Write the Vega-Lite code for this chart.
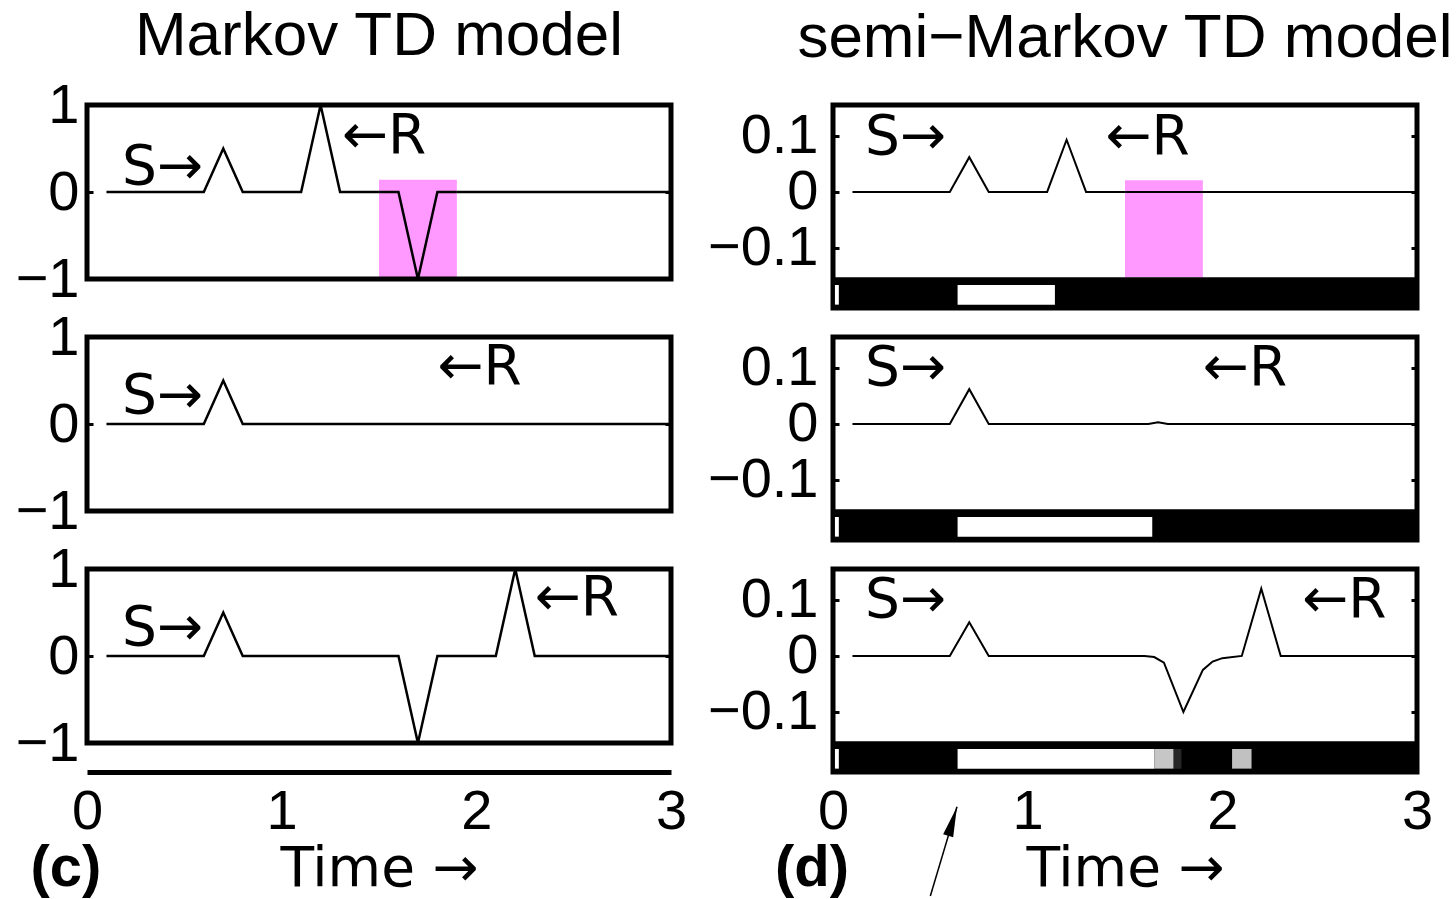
{
  "$schema": "https://vega.github.io/schema/vega-lite/v6.json",
  "background": "white",
  "padding": {"left": 12, "top": 2, "right": 5, "bottom": 0},
  "columns": 2,
  "bounds": "flush",
  "spacing": {"row": 29, "column": 162},
  "config": {
    "view": {"stroke": "black", "strokeWidth": 5},
    "font": "Liberation Sans",
    "axis": {"grid": false, "domain": false, "tickColor": "black", "tickWidth": 3, "labelFont": "Liberation Sans", "labelFontSize": 56, "labelColor": "black", "labelFlush": false, "labelOverlap": false, "titleFont": "DejaVu Sans", "titleFontSize": 55, "titleFontWeight": "normal", "titleColor": "black"},
    "title": {"font": "Liberation Sans", "fontSize": 62, "fontWeight": "normal", "color": "black", "anchor": "middle"},
    "text": {"font": "Liberation Sans", "color": "black"}
  },
  "datasets": {
    "markov": [
      {"panel": 1, "t": 0.1, "v": 0}, {"panel": 1, "t": 0.6, "v": 0}, {"panel": 1, "t": 0.7, "v": 0.5}, {"panel": 1, "t": 0.8, "v": 0},
      {"panel": 1, "t": 1.1, "v": 0}, {"panel": 1, "t": 1.2, "v": 1}, {"panel": 1, "t": 1.3, "v": 0},
      {"panel": 1, "t": 1.6, "v": 0}, {"panel": 1, "t": 1.7, "v": -1}, {"panel": 1, "t": 1.8, "v": 0}, {"panel": 1, "t": 3, "v": 0},
      {"panel": 2, "t": 0.1, "v": 0}, {"panel": 2, "t": 0.6, "v": 0}, {"panel": 2, "t": 0.7, "v": 0.5}, {"panel": 2, "t": 0.8, "v": 0}, {"panel": 2, "t": 3, "v": 0},
      {"panel": 3, "t": 0.1, "v": 0}, {"panel": 3, "t": 0.6, "v": 0}, {"panel": 3, "t": 0.7, "v": 0.5}, {"panel": 3, "t": 0.8, "v": 0},
      {"panel": 3, "t": 1.6, "v": 0}, {"panel": 3, "t": 1.7, "v": -1}, {"panel": 3, "t": 1.8, "v": 0},
      {"panel": 3, "t": 2.1, "v": 0}, {"panel": 3, "t": 2.2, "v": 1}, {"panel": 3, "t": 2.3, "v": 0}, {"panel": 3, "t": 3, "v": 0}
    ],
    "semi": [
      {"panel": 1, "t": 0.1, "v": 0}, {"panel": 1, "t": 0.6, "v": 0}, {"panel": 1, "t": 0.7, "v": 0.062}, {"panel": 1, "t": 0.8, "v": 0},
      {"panel": 1, "t": 1.1, "v": 0}, {"panel": 1, "t": 1.2, "v": 0.093}, {"panel": 1, "t": 1.3, "v": 0}, {"panel": 1, "t": 3, "v": 0},
      {"panel": 2, "t": 0.1, "v": 0}, {"panel": 2, "t": 0.6, "v": 0}, {"panel": 2, "t": 0.7, "v": 0.062}, {"panel": 2, "t": 0.8, "v": 0},
      {"panel": 2, "t": 1.62, "v": 0}, {"panel": 2, "t": 1.67, "v": 0.003}, {"panel": 2, "t": 1.72, "v": 0}, {"panel": 2, "t": 3, "v": 0},
      {"panel": 3, "t": 0.1, "v": 0}, {"panel": 3, "t": 0.6, "v": 0}, {"panel": 3, "t": 0.7, "v": 0.06}, {"panel": 3, "t": 0.8, "v": 0},
      {"panel": 3, "t": 1.6, "v": 0}, {"panel": 3, "t": 1.65, "v": -0.002}, {"panel": 3, "t": 1.7, "v": -0.012}, {"panel": 3, "t": 1.8, "v": -0.1},
      {"panel": 3, "t": 1.9, "v": -0.025}, {"panel": 3, "t": 1.95, "v": -0.01}, {"panel": 3, "t": 2.0, "v": -0.004}, {"panel": 3, "t": 2.1, "v": 0},
      {"panel": 3, "t": 2.2, "v": 0.12}, {"panel": 3, "t": 2.3, "v": 0}, {"panel": 3, "t": 3, "v": 0}
    ],
    "strip": [
      {"panel": 1, "t0": 0.01, "t1": 0.03, "p": 1}, {"panel": 1, "t0": 0.64, "t1": 1.14, "p": 1},
      {"panel": 2, "t0": 0.01, "t1": 0.03, "p": 1}, {"panel": 2, "t0": 0.64, "t1": 1.64, "p": 1},
      {"panel": 3, "t0": 0.01, "t1": 0.03, "p": 1}, {"panel": 3, "t0": 0.64, "t1": 1.65, "p": 1},
      {"panel": 3, "t0": 1.65, "t1": 1.75, "p": 0.8}, {"panel": 3, "t0": 1.75, "t1": 1.79, "p": 0.15},
      {"panel": 3, "t0": 2.05, "t1": 2.15, "p": 0.78}
    ],
    "labels": [
      {"panel": "c1", "t": 0.18, "v": 0.29, "label": "S→"}, {"panel": "c1", "t": 1.31, "v": 0.64, "label": "←R"},
      {"panel": "c2", "t": 0.18, "v": 0.32, "label": "S→"}, {"panel": "c2", "t": 1.8, "v": 0.66, "label": "←R"},
      {"panel": "c3", "t": 0.18, "v": 0.32, "label": "S→"}, {"panel": "c3", "t": 2.3, "v": 0.67, "label": "←R"},
      {"panel": "d1", "t": 0.165, "v": 0.098, "label": "S→"}, {"panel": "d1", "t": 1.4, "v": 0.098, "label": "←R"},
      {"panel": "d2", "t": 0.165, "v": 0.1, "label": "S→"}, {"panel": "d2", "t": 1.9, "v": 0.1, "label": "←R"},
      {"panel": "d3", "t": 0.165, "v": 0.1, "label": "S→"}, {"panel": "d3", "t": 2.41, "v": 0.1, "label": "←R"}
    ],
    "pink": [
      {"panel": "c1", "t0": 1.5, "t1": 1.9, "v0": -1, "v1": 0.14},
      {"panel": "d1", "t0": 1.5, "t1": 1.9, "v0": -0.152, "v1": 0.021}
    ],
    "tags": [
      {"panel": "c3", "t": -0.108, "v": -2.45, "label": "(c)"},
      {"panel": "d3", "t": -0.108, "v": -0.38, "label": "(d)"}
    ],
    "arrowline": [
      {"t": 0.5, "v": -0.428}, {"t": 0.637, "v": -0.269}
    ],
    "arrowhead": [
      {"t": 0.614, "v": -0.295}
    ]
  },
  "concat": [
    {
      "width": 584, "height": 174,
      "title": {"text": "Markov TD model", "offset": 9},
      "resolve": {"axis": {"y": "independent"}},
      "layer": [
        {"data": {"name": "markov"}, "transform": [{"filter": "datum.panel == 1"}],
         "mark": {"type": "line", "color": "black", "strokeWidth": 2.5},
         "encoding": {
           "x": {"field": "t", "type": "quantitative", "scale": {"domain": [0, 3], "nice": false}, "axis": null},
           "y": {"field": "v", "type": "quantitative", "scale": {"domain": [-1, 1], "nice": false, "zero": false}, "axis": {"values": [-1, 0, 1], "format": ".0f", "labelOverlap": false, "title": null, "tickSize": -6, "labelPadding": 14}}}},
        {"data": {"name": "pink"}, "transform": [{"filter": "datum.panel == 'c1'"}],
         "mark": {"type": "rect", "color": "#ff99ff", "blend": "multiply"},
         "encoding": {
           "x": {"field": "t0", "type": "quantitative", "axis": null}, "x2": {"field": "t1"},
           "y": {"field": "v0", "type": "quantitative", "axis": null}, "y2": {"field": "v1"}}},
        {"data": {"name": "labels"}, "transform": [{"filter": "datum.panel == 'c1'"}],
         "mark": {"type": "text", "align": "left", "baseline": "middle", "fontSize": 55, "font": "DejaVu Sans"},
         "encoding": {
           "x": {"field": "t", "type": "quantitative", "axis": null},
           "y": {"field": "v", "type": "quantitative", "axis": {"orient": "right", "values": [-1, 0, 1], "labels": false, "title": null, "tickSize": -6}},
           "text": {"field": "label"}}}
      ]
    },
    {
      "width": 584, "height": 203,
      "title": {"text": "semi−Markov TD model", "offset": 35},
      "resolve": {"axis": {"y": "independent"}},
      "layer": [
        {"data": {"values": [{}]},
         "mark": {"type": "rect", "color": "black"},
         "encoding": {
           "x": {"datum": 0, "type": "quantitative", "scale": {"domain": [0, 3], "nice": false}, "axis": null}, "x2": {"datum": 3},
           "y": {"datum": -0.207, "type": "quantitative", "scale": {"domain": [-0.207, 0.155], "nice": false, "zero": false}, "axis": null}, "y2": {"datum": -0.152}}},
        {"data": {"name": "strip"}, "transform": [{"filter": "datum.panel == 1"}],
         "mark": {"type": "rect"},
         "encoding": {
           "x": {"field": "t0", "type": "quantitative", "axis": null}, "x2": {"field": "t1"},
           "y": {"datum": -0.166, "type": "quantitative", "axis": null}, "y2": {"datum": -0.201},
           "color": {"field": "p", "type": "quantitative", "scale": {"domain": [0, 1], "range": ["#000000", "#ffffff"]}, "legend": null}}},
        {"data": {"name": "semi"}, "transform": [{"filter": "datum.panel == 1"}],
         "mark": {"type": "line", "color": "black", "strokeWidth": 2},
         "encoding": {
           "x": {"field": "t", "type": "quantitative", "axis": null},
           "y": {"field": "v", "type": "quantitative", "axis": {"values": [-0.1, 0, 0.1], "format": ".1~f", "title": null, "tickSize": -6, "labelPadding": 21}}}},
        {"data": {"name": "pink"}, "transform": [{"filter": "datum.panel == 'd1'"}],
         "mark": {"type": "rect", "color": "#ff99ff", "blend": "multiply"},
         "encoding": {
           "x": {"field": "t0", "type": "quantitative", "axis": null}, "x2": {"field": "t1"},
           "y": {"field": "v0", "type": "quantitative", "axis": null}, "y2": {"field": "v1"}}},
        {"data": {"name": "labels"}, "transform": [{"filter": "datum.panel == 'd1'"}],
         "mark": {"type": "text", "align": "left", "baseline": "middle", "fontSize": 55, "font": "DejaVu Sans"},
         "encoding": {
           "x": {"field": "t", "type": "quantitative", "axis": null},
           "y": {"field": "v", "type": "quantitative", "axis": {"orient": "right", "values": [-0.1, 0, 0.1], "labels": false, "title": null, "tickSize": -6}},
           "text": {"field": "label"}}}
      ]
    },
    {
      "width": 584, "height": 174,
      "resolve": {"axis": {"y": "independent"}},
      "layer": [
        {"data": {"name": "markov"}, "transform": [{"filter": "datum.panel == 2"}],
         "mark": {"type": "line", "color": "black", "strokeWidth": 2.5},
         "encoding": {
           "x": {"field": "t", "type": "quantitative", "scale": {"domain": [0, 3], "nice": false}, "axis": null},
           "y": {"field": "v", "type": "quantitative", "scale": {"domain": [-1, 1], "nice": false, "zero": false}, "axis": {"values": [-1, 0, 1], "format": ".0f", "labelOverlap": false, "title": null, "tickSize": -6, "labelPadding": 14}}}},
        {"data": {"name": "labels"}, "transform": [{"filter": "datum.panel == 'c2'"}],
         "mark": {"type": "text", "align": "left", "baseline": "middle", "fontSize": 55, "font": "DejaVu Sans"},
         "encoding": {
           "x": {"field": "t", "type": "quantitative", "axis": null},
           "y": {"field": "v", "type": "quantitative", "axis": {"orient": "right", "values": [-1, 0, 1], "labels": false, "title": null, "tickSize": -6}},
           "text": {"field": "label"}}}
      ]
    },
    {
      "width": 584, "height": 203,
      "resolve": {"axis": {"y": "independent"}},
      "layer": [
        {"data": {"values": [{}]},
         "mark": {"type": "rect", "color": "black"},
         "encoding": {
           "x": {"datum": 0, "type": "quantitative", "scale": {"domain": [0, 3], "nice": false}, "axis": null}, "x2": {"datum": 3},
           "y": {"datum": -0.207, "type": "quantitative", "scale": {"domain": [-0.207, 0.155], "nice": false, "zero": false}, "axis": null}, "y2": {"datum": -0.152}}},
        {"data": {"name": "strip"}, "transform": [{"filter": "datum.panel == 2"}],
         "mark": {"type": "rect"},
         "encoding": {
           "x": {"field": "t0", "type": "quantitative", "axis": null}, "x2": {"field": "t1"},
           "y": {"datum": -0.166, "type": "quantitative", "axis": null}, "y2": {"datum": -0.201},
           "color": {"field": "p", "type": "quantitative", "scale": {"domain": [0, 1], "range": ["#000000", "#ffffff"]}, "legend": null}}},
        {"data": {"name": "semi"}, "transform": [{"filter": "datum.panel == 2"}],
         "mark": {"type": "line", "color": "black", "strokeWidth": 2},
         "encoding": {
           "x": {"field": "t", "type": "quantitative", "axis": null},
           "y": {"field": "v", "type": "quantitative", "axis": {"values": [-0.1, 0, 0.1], "format": ".1~f", "title": null, "tickSize": -6, "labelPadding": 21}}}},
        {"data": {"name": "labels"}, "transform": [{"filter": "datum.panel == 'd2'"}],
         "mark": {"type": "text", "align": "left", "baseline": "middle", "fontSize": 55, "font": "DejaVu Sans"},
         "encoding": {
           "x": {"field": "t", "type": "quantitative", "axis": null},
           "y": {"field": "v", "type": "quantitative", "axis": {"orient": "right", "values": [-0.1, 0, 0.1], "labels": false, "title": null, "tickSize": -6}},
           "text": {"field": "label"}}}
      ]
    },
    {
      "width": 584, "height": 174,
      "resolve": {"axis": {"y": "independent"}},
      "layer": [
        {"data": {"name": "markov"}, "transform": [{"filter": "datum.panel == 3"}],
         "mark": {"type": "line", "color": "black", "strokeWidth": 2.5},
         "encoding": {
           "x": {"field": "t", "type": "quantitative", "scale": {"domain": [0, 3], "nice": false}, "axis": {"values": [0, 1, 2, 3], "format": "d", "title": "Time →", "offset": 29, "domain": true, "domainWidth": 5, "domainColor": "black", "ticks": false, "labelPadding": 12, "titlePadding": 3}},
           "y": {"field": "v", "type": "quantitative", "scale": {"domain": [-1, 1], "nice": false, "zero": false}, "axis": {"values": [-1, 0, 1], "format": ".0f", "labelOverlap": false, "title": null, "tickSize": -6, "labelPadding": 14}}}},
        {"data": {"name": "labels"}, "transform": [{"filter": "datum.panel == 'c3'"}],
         "mark": {"type": "text", "align": "left", "baseline": "middle", "fontSize": 55, "font": "DejaVu Sans"},
         "encoding": {
           "x": {"field": "t", "type": "quantitative"},
           "y": {"field": "v", "type": "quantitative", "axis": {"orient": "right", "values": [-1, 0, 1], "labels": false, "title": null, "tickSize": -6}},
           "text": {"field": "label"}}},
        {"data": {"name": "tags"}, "transform": [{"filter": "datum.panel == 'c3'"}],
         "mark": {"type": "text", "align": "center", "baseline": "middle", "fontSize": 58, "fontWeight": "bold"},
         "encoding": {
           "x": {"field": "t", "type": "quantitative"},
           "y": {"field": "v", "type": "quantitative", "axis": null},
           "text": {"field": "label"}}}
      ]
    },
    {
      "width": 584, "height": 203,
      "resolve": {"axis": {"y": "independent"}},
      "layer": [
        {"data": {"values": [{}]},
         "mark": {"type": "rect", "color": "black"},
         "encoding": {
           "x": {"datum": 0, "type": "quantitative", "scale": {"domain": [0, 3], "nice": false}, "axis": {"values": [0, 1, 2, 3], "format": "d", "title": "Time →", "ticks": false, "labelPadding": 12, "titlePadding": 3}}, "x2": {"datum": 3},
           "y": {"datum": -0.207, "type": "quantitative", "scale": {"domain": [-0.207, 0.155], "nice": false, "zero": false}, "axis": null}, "y2": {"datum": -0.152}}},
        {"data": {"name": "strip"}, "transform": [{"filter": "datum.panel == 3"}],
         "mark": {"type": "rect"},
         "encoding": {
           "x": {"field": "t0", "type": "quantitative"}, "x2": {"field": "t1"},
           "y": {"datum": -0.166, "type": "quantitative", "axis": null}, "y2": {"datum": -0.201},
           "color": {"field": "p", "type": "quantitative", "scale": {"domain": [0, 1], "range": ["#000000", "#ffffff"]}, "legend": null}}},
        {"data": {"name": "semi"}, "transform": [{"filter": "datum.panel == 3"}],
         "mark": {"type": "line", "color": "black", "strokeWidth": 2},
         "encoding": {
           "x": {"field": "t", "type": "quantitative"},
           "y": {"field": "v", "type": "quantitative", "axis": {"values": [-0.1, 0, 0.1], "format": ".1~f", "title": null, "tickSize": -6, "labelPadding": 21}}}},
        {"data": {"name": "labels"}, "transform": [{"filter": "datum.panel == 'd3'"}],
         "mark": {"type": "text", "align": "left", "baseline": "middle", "fontSize": 55, "font": "DejaVu Sans"},
         "encoding": {
           "x": {"field": "t", "type": "quantitative"},
           "y": {"field": "v", "type": "quantitative", "axis": {"orient": "right", "values": [-0.1, 0, 0.1], "labels": false, "title": null, "tickSize": -6}},
           "text": {"field": "label"}}},
        {"data": {"name": "tags"}, "transform": [{"filter": "datum.panel == 'd3'"}],
         "mark": {"type": "text", "align": "center", "baseline": "middle", "fontSize": 58, "fontWeight": "bold"},
         "encoding": {
           "x": {"field": "t", "type": "quantitative"},
           "y": {"field": "v", "type": "quantitative", "axis": null},
           "text": {"field": "label"}}},
        {"data": {"name": "arrowline"},
         "mark": {"type": "line", "color": "black", "strokeWidth": 1.5},
         "encoding": {
           "x": {"field": "t", "type": "quantitative"},
           "y": {"field": "v", "type": "quantitative", "axis": null}}},
        {"data": {"name": "arrowhead"},
         "mark": {"type": "point", "shape": "M0,-1L0.35,1L-0.35,1Z", "filled": true, "color": "black", "size": 900, "angle": 17, "opacity": 1},
         "encoding": {
           "x": {"field": "t", "type": "quantitative"},
           "y": {"field": "v", "type": "quantitative", "axis": null}}}
      ]
    }
  ]
}
